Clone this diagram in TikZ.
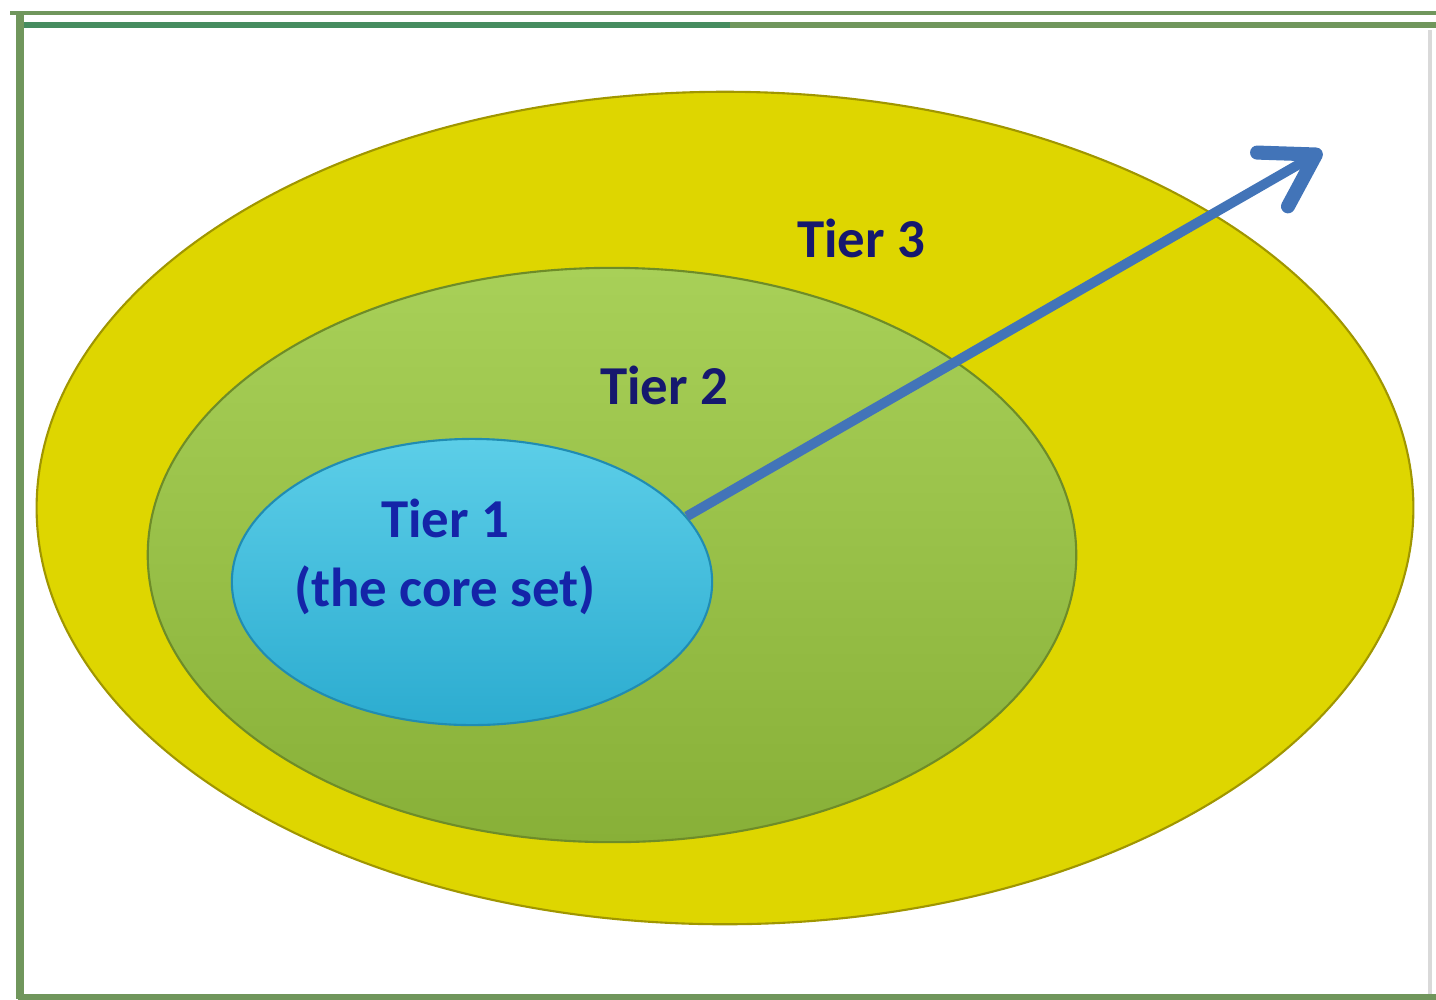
\documentclass[tikz,border=0pt]{standalone}
\usepackage{fontspec}
\setmainfont{Carlito}
\usetikzlibrary{shapes.geometric,arrows.meta}

\definecolor{frameGreen}{RGB}{112,150,92}
\definecolor{frameTeal}{RGB}{70,140,95}
\definecolor{tierYellow}{RGB}{222,214,0}
\definecolor{tierYellowEdge}{RGB}{160,150,0}
\definecolor{tierGreenTop}{RGB}{168,208,88}
\definecolor{tierGreenBot}{RGB}{136,176,56}
\definecolor{tierGreenEdge}{RGB}{110,140,40}
\definecolor{tierBlueTop}{RGB}{92,206,232}
\definecolor{tierBlueBot}{RGB}{44,172,208}
\definecolor{tierBlueEdge}{RGB}{32,140,178}
\definecolor{arrowBlue}{RGB}{66,116,184}
\definecolor{labelNavy}{RGB}{22,24,110}
\definecolor{labelBlue}{RGB}{20,36,168}

\tikzset{
	tier/.style={ellipse, inner sep=0pt, line width=0.6pt},
	tierlabel/.style={font=\fontsize{15.6}{19.5}\selectfont\bfseries, text=labelNavy, inner sep=0pt},
	growarrow/.style={line width=2.8pt, color=arrowBlue, -{Straight Barb[length=0.5cm, width=0.62cm, line width=4pt, line cap=round, line join=round]}}
}

\begin{document}
\begin{tikzpicture}[x=0.01cm, y=-0.01cm]
			%%%%% START %%%%%
			
			\useasboundingbox (0, 0) rectangle (1436, 999);
			
			% frame
			\draw[line width=0.9pt, color=frameGreen] (10, 13) -- (1436, 13);
			\draw[line width=1.8pt, color=frameTeal] (18, 25) -- (730, 25);
			\draw[line width=1.8pt, color=frameGreen] (730, 25) -- (1436, 25);
			\draw[line width=2.4pt, color=frameGreen] (20, 13) -- (20, 999);
			\draw[line width=1.6pt, color=frameGreen] (18, 997) -- (1436, 997);
			\draw[line width=1.2pt, color=black!15] (1430, 30) -- (1430, 994);
			
			% tiers
			\node[tier, draw=tierYellowEdge, fill=tierYellow,
				minimum width=13.76cm, minimum height=8.32cm] (tier3) at (725, 508) {};
			\node[tier, draw=tierGreenEdge, top color=tierGreenTop, bottom color=tierGreenBot,
				minimum width=9.28cm, minimum height=5.74cm] (tier2) at (612, 555) {};
			\node[tier, draw=tierBlueEdge, top color=tierBlueTop, bottom color=tierBlueBot,
				minimum width=4.8cm, minimum height=2.86cm] (tier1) at (472, 582) {};
			
			% labels
			\node[tierlabel] (lbl3) at (861, 238) {Tier 3};
			\node[tierlabel] (lbl2) at (664, 385) {Tier 2};
			\node[tierlabel, text=labelBlue] (lbl1) at (445, 518) {Tier 1};
			\node[tierlabel, text=labelBlue] (lblcore) at (445, 590) {(the core set)};
			
			% arrow
			\coordinate (tip) at (1322, 151);
			\draw[growarrow] (tier1.17) -- (tip);
			
			%%%%% END %%%%%
\end{tikzpicture}
\end{document}
